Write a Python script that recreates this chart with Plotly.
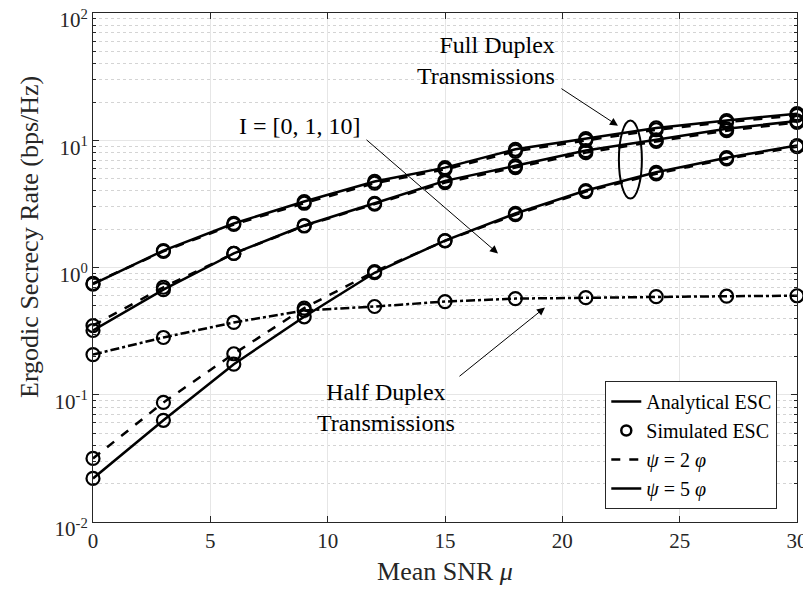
"""
Ergodic secrecy rate vs mean SNR — full duplex / half duplex
"""
import plotly.graph_objects as go

# ── data ───────────────────────────────────────────────────────────
snr = [0, 3, 6, 9, 12, 15, 18, 21, 24, 27, 30]

fd_i0_psi5 = [0.74, 1.36, 2.22, 3.3, 4.75, 6.1, 8.5, 10.3, 12.5, 14.3, 16.2]
fd_i0_psi2 = [0.75, 1.34, 2.18, 3.2, 4.6, 5.9, 8.2, 10.0, 12.1, 13.9, 15.7]
fd_i1_psi5 = [0.32, 0.67, 1.29, 2.14, 3.2, 4.8, 6.3, 8.3, 10.1, 12.3, 14.2]
fd_i1_psi2 = [0.35, 0.70, 1.29, 2.12, 3.15, 4.65, 6.1, 8.0, 9.8, 11.9, 13.8]
fd_i10_psi5 = [0.022, 0.063, 0.174, 0.41, 0.91, 1.63, 2.66, 4.03, 5.6, 7.3, 9.1]
fd_i10_psi2 = [0.0316, 0.087, 0.21, 0.48, 0.93, 1.62, 2.6, 3.95, 5.45, 7.15, 8.9]
hd = [0.207, 0.282, 0.37, 0.46, 0.494, 0.54, 0.57, 0.58, 0.59, 0.595, 0.60]

y_tickvals = [0.01, 0.1, 1, 10, 100]
y_ticktext = ["10<sup>-2</sup>", "10<sup>-1</sup>", "10<sup>0</sup>",
              "10<sup>1</sup>", "10<sup>2</sup>"]

FONT = "Liberation Serif, Times New Roman, serif"
BLACK = "#000000"
AXIS = "#262626"

curves = [
    (fd_i0_psi5, "solid"),
    (fd_i0_psi2, "dash"),
    (fd_i1_psi5, "solid"),
    (fd_i1_psi2, "dash"),
    (fd_i10_psi5, "solid"),
    (fd_i10_psi2, "dash"),
    (hd, "dashdot"),
]

fig = go.Figure()

for ys, dash in curves:
    fig.add_trace(go.Scatter(
        x=snr, y=ys,
        mode="lines+markers",
        line=dict(color=BLACK, width=2.5, dash=dash),
        marker=dict(symbol="circle-open", size=13, color=BLACK,
                    line=dict(width=2.2, color=BLACK)),
        showlegend=False,
        hoverinfo="skip",
        cliponaxis=False,
    ))

# legend-only entries
legend_items = [
    ("Analytical ESC", "lines", "solid"),
    ("Simulated ESC", "markers", "solid"),
    ("<i>ψ</i> = 2 <i>φ</i>", "lines", "dash"),
    ("<i>ψ</i> = 5 <i>φ</i>", "lines", "solid"),
]
for name, mode, dash in legend_items:
    fig.add_trace(go.Scatter(
        x=[None], y=[None], mode=mode, name=name,
        line=dict(color=BLACK, width=2.5, dash=dash),
        marker=dict(symbol="circle-open", size=10, color=BLACK,
                    line=dict(width=2.5, color=BLACK)),
    ))

# ── annotations ────────────────────────────────────────────────────
txt = dict(family=FONT, size=24, color=BLACK)
arrow = dict(text="", showarrow=True, arrowhead=2, arrowsize=1.6,
             arrowwidth=1, arrowcolor=BLACK)
annotations = [
    dict(x=8.82, y=1.115, text="I = [0, 1, 10]", showarrow=False, font=txt),
    dict(x=17.26, y=0.11, ax=-133, ay=-115, **arrow),
    dict(x=19.77, y=1.626, text="Full Duplex<br>Transmissions", showarrow=False,
         xanchor="right", align="right", font=txt),
    dict(x=22.37, y=1.115, ax=-58, ay=-38, **arrow),
    dict(x=12.48, y=-1.10, text="Half Duplex<br>Transmissions", showarrow=False,
         align="center", font=txt),
    dict(x=19.26, y=-0.314, ax=-87, ay=70, **arrow),
    # y-axis title (placed like the original, slightly above centre)
    dict(xref="paper", yref="paper", x=-0.0895, y=0.56,
         text="Ergodic Secrecy Rate (bps/Hz)", textangle=-90, showarrow=False,
         xanchor="center", yanchor="middle",
         font=dict(family=FONT, size=26, color=AXIS)),
]

fig.add_shape(type="circle", xref="x", yref="y",
              x0=22.41, x1=23.39, y0=3.48, y1=14.3,
              line=dict(color=BLACK, width=2))

# page body adds an 8px offset; size and margins compensate so nothing scrolls
fig.update_layout(
    width=803, height=578,
    margin=dict(l=85, r=14, t=5, b=64),
    paper_bgcolor="white",
    plot_bgcolor="white",
    font=dict(family=FONT, size=21, color=AXIS),
    annotations=annotations,
    legend=dict(
        x=0.972, y=0.0255, xanchor="right", yanchor="bottom",
        bgcolor="white", bordercolor=AXIS, borderwidth=1,
        font=dict(family=FONT, size=20, color=BLACK),
        tracegroupgap=0, itemwidth=30,
    ),
)

fig.update_xaxes(
    range=[0, 30], dtick=5,
    showline=True, linecolor=AXIS, linewidth=1, mirror="ticks",
    ticks="inside", ticklen=6, tickcolor=AXIS,
    showgrid=True, gridcolor="#e6e6e6", gridwidth=1,
    zeroline=False, automargin=False,
    tickfont=dict(family=FONT, size=21, color=AXIS),
    title=dict(text="Mean SNR <i>μ</i>", font=dict(family=FONT, size=26), standoff=10),
)
fig.update_yaxes(
    type="log", range=[-2, 2.0005],
    tickmode="array", tickvals=y_tickvals, ticktext=y_ticktext,
    ticklabeloverflow="allow", ticklabelshift=7,
    showline=True, linecolor=AXIS, linewidth=1, mirror="ticks",
    ticks="inside", ticklen=6, tickcolor=AXIS,
    showgrid=True, gridcolor="#e6e6e6", gridwidth=1,
    minor=dict(dtick="D1", ticks="inside", ticklen=3, tickcolor=AXIS,
               showgrid=True, gridcolor="#d4d4d4", griddash="dot", gridwidth=1),
    zeroline=False, automargin=False,
    tickfont=dict(family=FONT, size=21, color=AXIS),
)

fig.write_html("out.html")
